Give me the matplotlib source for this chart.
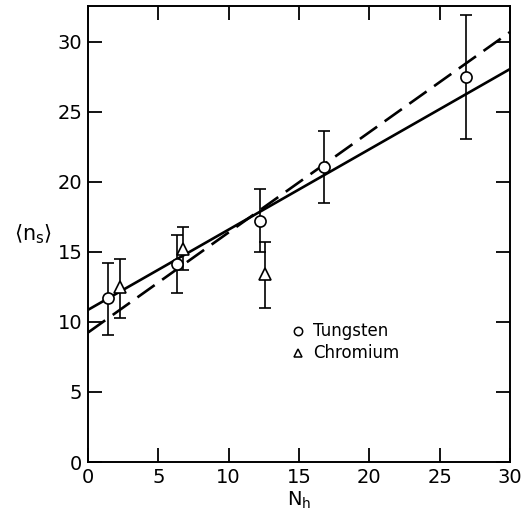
import matplotlib
matplotlib.use("Agg")
import matplotlib.pyplot as plt
import numpy as np

# Tungsten data
w_x = [1.4, 6.35, 12.2, 16.8, 26.9]
w_y = [11.7, 14.1, 17.2, 21.05, 27.45]
w_lo = [9.1, 12.05, 15.0, 18.5, 23.05]
w_hi = [14.2, 16.2, 19.5, 23.6, 31.9]

# Chromium data
c_x = [2.3, 6.75, 12.55]
c_y = [12.5, 15.2, 13.4]
c_lo = [10.3, 13.7, 11.0]
c_hi = [14.5, 16.8, 15.7]

# Fit lines (intercept, slope)
solid_fit = (10.86, 0.573)
dashed_fit = (9.24, 0.715)

xticks = [0, 5, 10, 15, 20, 25, 30]
yticks = [0, 5, 10, 15, 20, 25, 30]

fig = plt.figure(figsize=(5.28, 5.18), dpi=100)
ax = fig.add_axes([88/528, 56/518, 422/528, 456/518])

xs = np.array([0, 30])
ax.plot(xs, solid_fit[0] + solid_fit[1]*xs, color='black', lw=1.9, solid_capstyle='butt')
ax.plot(xs, dashed_fit[0] + dashed_fit[1]*xs, color='black', lw=1.9, dashes=(8, 3.5))

w_err = [np.array(w_y) - np.array(w_lo), np.array(w_hi) - np.array(w_y)]
c_err = [np.array(c_y) - np.array(c_lo), np.array(c_hi) - np.array(c_y)]
ax.errorbar(w_x, w_y, yerr=w_err, fmt='o', mfc='white', mec='black', mew=1.2,
            ms=8, ecolor='black', elinewidth=1.2, capsize=4, capthick=1.2, zorder=3)
ax.errorbar(c_x, c_y, yerr=c_err, fmt='^', mfc='white', mec='black', mew=1.2,
            ms=9, ecolor='black', elinewidth=1.2, capsize=4, capthick=1.2, zorder=3)

ax.set_xlim(0, 30)
ax.set_ylim(0, 32.55)
ax.set_xticks(xticks)
ax.set_yticks(yticks)
ax.tick_params(direction='in', length=10, width=1.3, top=True, right=True,
               labelsize=14, pad=4)
for s in ax.spines.values():
    s.set_linewidth(1.4)

ax.text(-0.175, 0.5, r'$\langle\mathregular{n_s}\rangle$', transform=ax.transAxes,
        fontsize=15, ha='left', va='center')
ax.set_xlabel(r'N$_\mathregular{h}$', fontsize=14, labelpad=2)

# Legend
ax.plot([(298-88)/422*30], [(462-331)/14], 'o', mfc='white', mec='black', ms=6, mew=1.1)
ax.plot([(298-88)/422*30], [(462-353)/14], '^', mfc='white', mec='black', ms=6, mew=1.1)
ax.text((313-88)/422*30, (462-331)/14, 'Tungsten', fontsize=12, va='center', ha='left')
ax.text((313-88)/422*30, (462-353)/14, 'Chromium', fontsize=12, va='center', ha='left')

fig.savefig('out.png', dpi=100)
